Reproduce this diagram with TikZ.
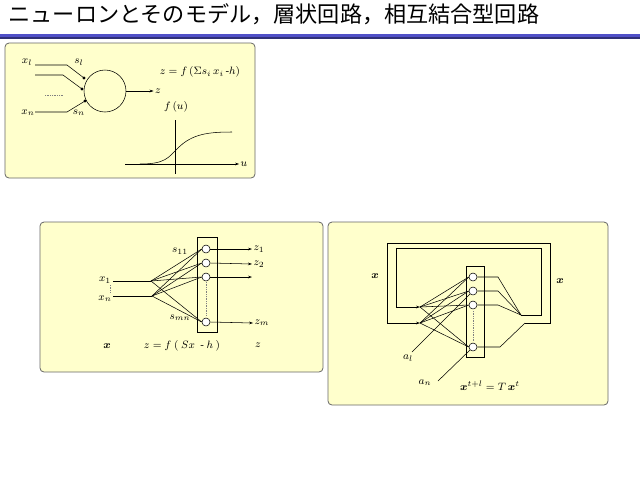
\documentclass[tikz,border=0pt]{standalone}
\usepackage{amsmath}
\usepackage{fontspec}
\setmainfont{Liberation Serif}
\newfontfamily\jpfont{Noto Sans CJK JP}
\usepackage{bm}
\usetikzlibrary{positioning,arrows.meta}
\definecolor{panelfill}{RGB}{255,255,204}
\definecolor{rulebl}{RGB}{80,80,200}
\tikzset{
  panel/.style={draw=gray!80!black, fill=panelfill, rounded corners=3pt, line width=0.6pt},
  lbl/.style={font=\fontsize{8}{9}\selectfont\itshape, inner sep=1pt},
  unit/.style={draw, circle, minimum size=6pt, inner sep=0pt, fill=white},
  wire/.style={line width=0.4pt},
  dots/.style={densely dotted, line width=0.3pt, gray},
  arr/.style={wire, -{Stealth[length=3pt,width=2pt]}}
}
\begin{document}
\begin{tikzpicture}[x=0.75pt, y=-0.75pt]
  \useasboundingbox (0,0) rectangle (640,480);
  % title
  \node[anchor=west, font=\jpfont\fontsize{16.6}{18}\selectfont] (title) at (4,14) {ニューロンとそのモデル，層状回路，相互結合型回路};
  \fill[rulebl] (0,34) rectangle (640,37);
  \fill[rulebl!60!black] (0,37) rectangle (640,39);

  % panels
  \draw[panel] (5,43) rectangle (255,178);
  \draw[panel] (40,222) rectangle (323,372);
  \draw[panel] (328,222) rectangle (608,405);

  % --- single neuron
  \node[draw, circle, inner sep=0pt, minimum size=31.5pt, wire] (cell) at (105,91) {};
  \coordinate (d1) at (84,78); \coordinate (d2) at (82,89); \coordinate (dn) at (85,101);
  \foreach \d in {d1,d2,dn} \fill (\d) circle (1.2pt);
  \node[lbl] (x1) at (27,62) {$x_l$};
  \node[lbl] (xn) at (28,113) {$x_n$};
  \node[lbl] (s1) at (79,62) {$s_l$};
  \node[lbl] (sn) at (79,113) {$s_n$};
  \coordinate (in1) at (35,65); \coordinate (in2) at (35,75); \coordinate (inn) at (35,112);
  \draw[wire] (in1) -- (67,65) -- (d1);
  \draw[wire] (in2) -- (63,75) -- (d2);
  \draw[wire] (inn) -- (67,112) -- (dn);
  \draw[dots] (45,95) -- (63,95);
  \node[lbl] (z0) at (158,91) {$z$};
  \draw[arr] (cell.east) -- (z0.west);
  \node[lbl] (law) at (200,72) {$z=f\,(\Sigma s_i\,x_i\,\text{-}h)$};
  \node[lbl] (fu) at (176,107) {$f\,(u)$};
  \node[lbl] (u) at (244,164) {$u$};
  \coordinate (ax0) at (125,164); \coordinate (ay0) at (175,120); \coordinate (ay1) at (175,174);
  \draw[arr] (ax0) -- (u.west);
  \draw[wire] (ay0) -- (ay1);
  \draw[wire] (140,164) .. controls (165,164) and (168,158) .. (178,148)
    .. controls (192,134) and (208,132) .. (232,132);

  % --- layered network
  \node[draw, wire, minimum width=15pt, minimum height=71pt, inner sep=0pt] (lbox) at (207,284.5) {};
  \foreach \n/\y in {1/249,2/263,3/277,4/322}
    \node[unit] (l\n) at (206,\y) {};
  \node[lbl] (z1) at (259,249) {$z_1$};
  \node[lbl] (z2) at (259,264) {$z_2$};
  \coordinate (z3) at (252,277);
  \node[lbl] (zm) at (262,323) {$z_m$};
  \draw[arr] (l1.east) -- (z1.west);
  \draw[arr] (l2.east) -- (z2.west);
  \draw[arr] (l3.east) -- (z3);
  \draw[arr] (l4.east) -- (zm.west);
  \node[lbl] (lx1) at (105,280) {$x_1$};
  \node[lbl] (lxn) at (105,299) {$x_n$};
  \coordinate (la) at (151,281); \coordinate (lb) at (152,296);
  \draw[wire] (113,281) -- (la);
  \draw[wire] (113,296) -- (lb);
  \draw[dots] (110,285) -- (110,292);
  \foreach \n in {1,...,4} {
    \draw[wire] (la) -- (l\n.west);
    \draw[wire] (lb) -- (l\n.west);
  }
  \draw[dots] (206,282) -- (206,315);
  \node[lbl] (s11) at (180,251) {$s_{11}$};
  \node[lbl] (smn) at (180,318) {$s_{mn}$};
  \node[lbl] (bx) at (107,346) {$\bm{x}$};
  \node[lbl] (lawl) at (182,346) {$z=f\ (\ Sx\ \ \text{-}\ h\ )$};
  \node[lbl] (bz) at (258,345) {$z$};

  % --- mutually connected network
  \node[draw, wire, minimum width=13.5pt, minimum height=68pt, inner sep=0pt] (hbox) at (475,311.5) {};
  \foreach \n/\y in {1/277,2/291,3/305,4/347}
    \node[unit] (h\n) at (473,\y) {};
  \draw[dots] (473,311) -- (473,341);
  \coordinate (ha) at (420,307); \coordinate (hb) at (420,323);
  \foreach \n in {1,...,4} {
    \draw[wire] (ha) -- (h\n.west);
    \draw[wire] (hb) -- (h\n.west);
  }
  \node[lbl] (a1) at (408,358) {$a_l$};
  \node[lbl] (an) at (425,383) {$a_n$};
  \draw[wire] (412,352) -- (h2.south west);
  \draw[wire] (438,381) -- (h4.south west);
  \coordinate (m1) at (521,315); \coordinate (m2) at (525,323);
  \foreach \n/\y in {1/277,2/291,3/305} \draw[wire] (h\n.east) -- (498,\y) -- (m1);
  \draw[wire] (h4.east) -- (500,347) -- (m2);
  \draw[arr] (m1) -- (541,315) -- (541,248) -- (396,248) -- (396,307) -- (ha);
  \draw[arr] (m2) -- (550,323) -- (550,243) -- (387,243) -- (387,323) -- (hb);
  \node[lbl] (hx) at (375,276) {$\bm{x}$};
  \node[lbl] (hx2) at (560,281) {$\bm{x}$};
  \node[lbl] (lawh) at (490,386) {$\bm{x}^{t+l}=T\,\bm{x}^{t}$};
\end{tikzpicture}
\end{document}
